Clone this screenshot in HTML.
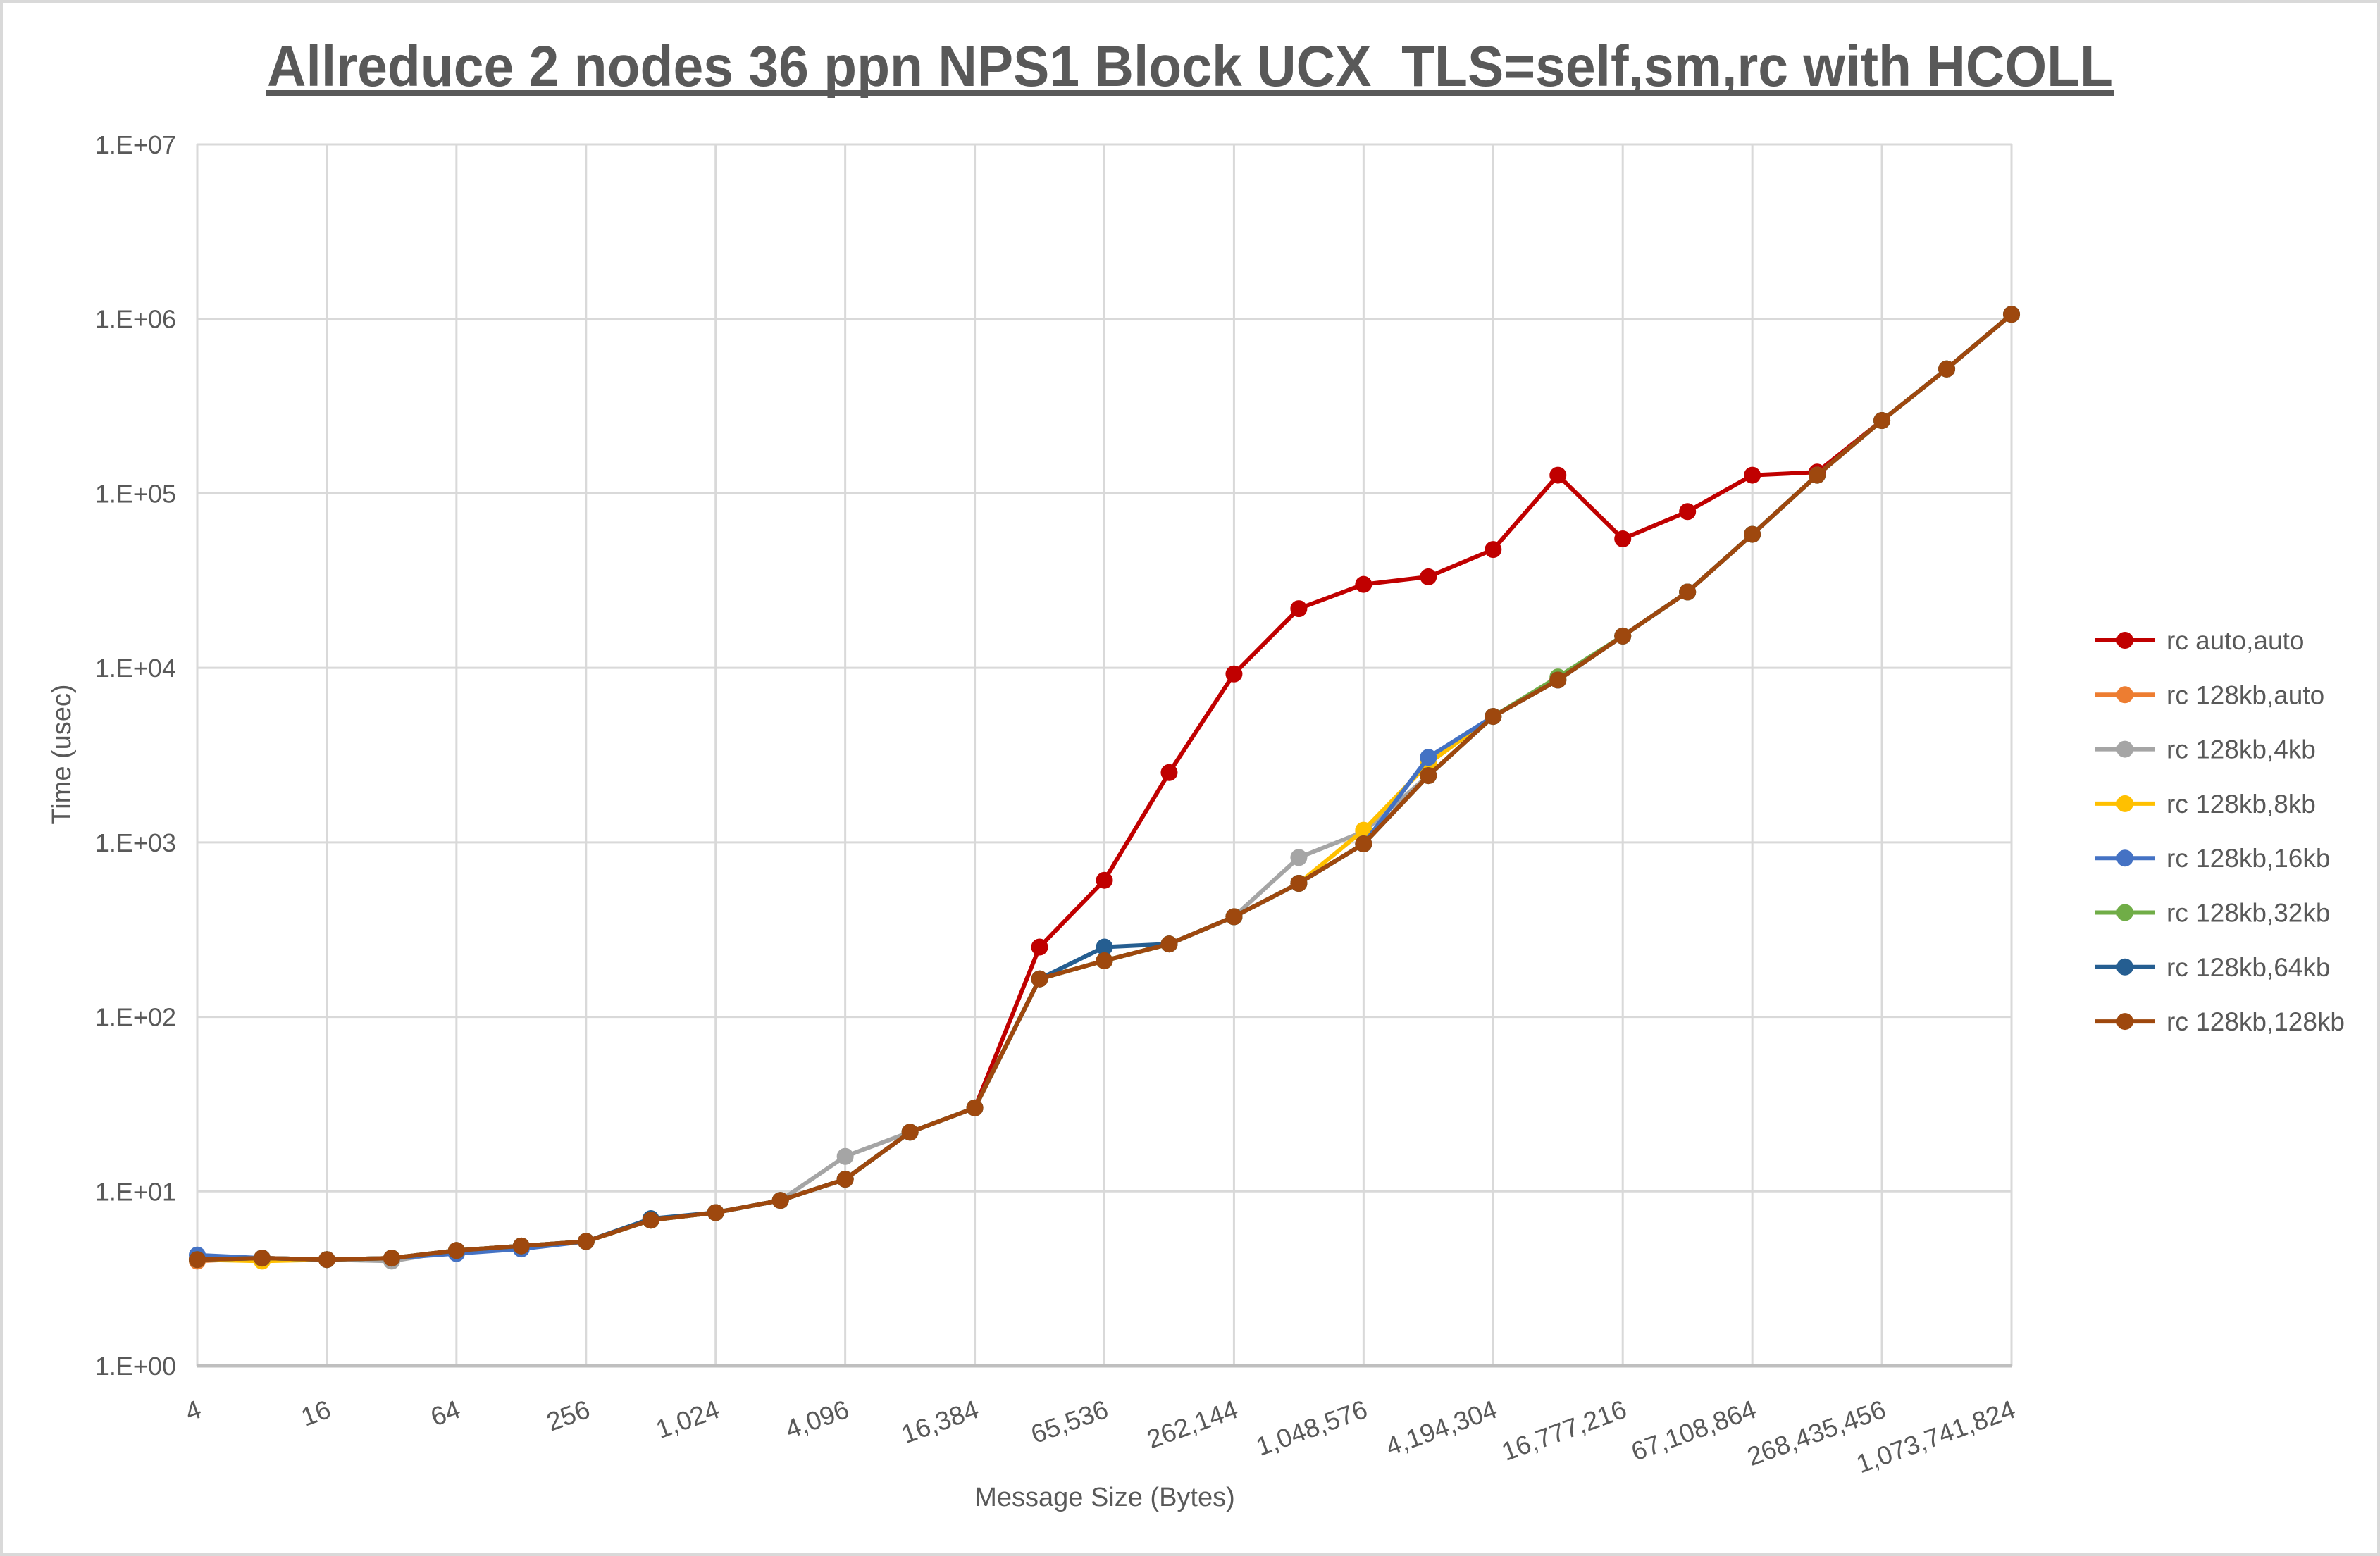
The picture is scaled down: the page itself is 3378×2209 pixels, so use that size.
<!DOCTYPE html>
<html><head><meta charset="utf-8"><style>
html,body{margin:0;padding:0;background:#fff}
svg{display:block}
text{font-family:"Liberation Sans",sans-serif;fill:#595959}
</style></head><body>
<svg id="s" width="3378" height="2209" viewBox="0 0 3378 2209" xmlns="http://www.w3.org/2000/svg">
<rect x="2" y="2" width="3374" height="2205" fill="#fff" stroke="#d9d9d9" stroke-width="4"/>
<text x="1689" y="122" text-anchor="middle" font-size="82" font-weight="bold" textLength="2620" lengthAdjust="spacingAndGlyphs">Allreduce 2 nodes 36 ppn NPS1 Block UCX_TLS=self,sm,rc with HCOLL</text>
<rect x="378" y="128" width="2622" height="8" fill="#595959"/>
<g id="grid"></g>
<g id="series"></g>
<text transform="translate(100,1071) rotate(-90)" text-anchor="middle" font-size="38">Time (usec)</text>
<text x="1568" y="2138" text-anchor="middle" font-size="38">Message Size (Bytes)</text>
<g id="legend"></g>
</svg>
<script>
const NS="http://www.w3.org/2000/svg";
function el(p,t,a,txt){const e=document.createElementNS(NS,t);for(const k in a)e.setAttribute(k,a[k]);if(txt!==undefined)e.textContent=txt;p.appendChild(e);return e;}
const L=280,R=2855,T=205,B=1939,dx=(R-L)/28,dec=(B-T)/7;
const g=document.getElementById('grid');
for(let i=0;i<=7;i++){const y=T+i*dec;el(g,'line',{x1:L,x2:R,y1:y,y2:y,stroke:'#d9d9d9','stroke-width':3});
 el(g,'text',{x:250,y:y+13,'text-anchor':'end','font-size':36},'1.E+0'+(7-i));}
const labs=["4","16","64","256","1,024","4,096","16,384","65,536","262,144","1,048,576","4,194,304","16,777,216","67,108,864","268,435,456","1,073,741,824"];
for(let i=0;i<=28;i+=2){const x=L+i*dx;el(g,'line',{x1:x,x2:x,y1:T,y2:B,stroke:'#d9d9d9','stroke-width':3});
 el(g,'text',{'text-anchor':'end','font-size':37,transform:`translate(${x+8},${B+72}) rotate(-20)`},labs[i/2]);}
el(g,'line',{x1:L,x2:R,y1:B,y2:B,stroke:'#bfbfbf','stroke-width':5});
const base=[830,829,830,829,824,821,818,804,799,791,777,746,730,645,633,622,604,582,556,511,472,448,419,390,352,313,277,243,207];
function mod(ch){const a=base.slice();for(const k in ch)a[k]=ch[k];return a;}
const red=mod({13:624,14:580,15:509,16:444,17:401,18:385,19:380,20:362,21:313,22:355,23:337,24:313,25:311});
const S=[
 ["rc auto,auto","#c00000",red],
 ["rc 128kb,auto","#ed7d31",mod({0:831})],
 ["rc 128kb,4kb","#a5a5a5",mod({3:831,10:762,17:565,18:548})],
 ["rc 128kb,8kb","#ffc000",mod({1:831,18:547,19:503})],
 ["rc 128kb,16kb","#4472c4",mod({0:827,4:826,5:823,19:499})],
 ["rc 128kb,32kb","#70ad47",mod({21:446})],
 ["rc 128kb,64kb","#255e91",mod({7:803,14:624,15:622})],
 ["rc 128kb,128kb","#9e480e",base]
];
const sg=document.getElementById('series');
const Y=yd=>B-(900-yd)*(B-T)/805;
S.forEach(([n,c,d])=>{
 const pts=d.map((v,i)=>(L+i*dx).toFixed(1)+','+Y(v).toFixed(1)).join(' ');
 el(sg,'polyline',{points:pts,fill:'none',stroke:c,'stroke-width':6,'stroke-linejoin':'round'});
 d.forEach((v,i)=>el(sg,'circle',{cx:L+i*dx,cy:Y(v),r:12,fill:c}));
});
const lg=document.getElementById('legend');
S.forEach(([n,c],i)=>{const y=909+i*77.3;
 el(lg,'line',{x1:2973,x2:3058,y1:y,y2:y,stroke:c,'stroke-width':6});
 el(lg,'circle',{cx:3016,cy:y,r:12,fill:c});
 el(lg,'text',{x:3075,y:y+13,'font-size':37},n);});
</script>
</body></html>
